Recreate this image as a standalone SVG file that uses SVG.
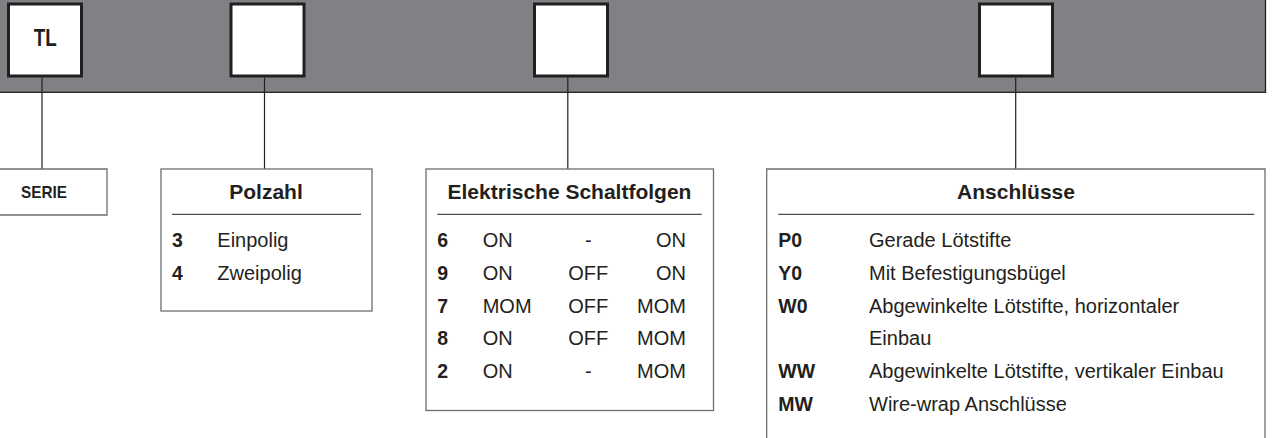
<svg xmlns="http://www.w3.org/2000/svg" width="1273" height="438" viewBox="0 0 1273 438">
<style>
.t{font-family:"Liberation Sans",Arial,sans-serif;fill:#231f20}
.h{font-size:21px;font-weight:bold;text-anchor:middle}
.b{font-size:19.5px;font-weight:bold}
.r{font-size:20px}
.box{fill:#fff;stroke:#6d6e71;stroke-width:1.3}
.slot{fill:#fff;stroke:#231f20;stroke-width:3}
.rule{stroke:#231f20;stroke-width:1}
.con{stroke:#231f20;stroke-width:1.2;fill:none}
</style>
<rect x="-2" y="-2" width="1267.5" height="94.3" fill="#808185" stroke="#231f20" stroke-width="1.3"/>
<g id="slot-tl"><rect class="slot" x="8.5" y="4" width="73" height="72"/><text class="t" x="45.3" y="45.7" font-size="24" font-weight="bold" text-anchor="middle" textLength="23" lengthAdjust="spacingAndGlyphs">TL</text></g>
<g id="slot-2"><rect class="slot" x="231" y="4" width="73" height="72"/></g>
<g id="slot-3"><rect class="slot" x="534.5" y="4" width="73" height="72"/></g>
<g id="slot-4"><rect class="slot" x="979.5" y="4" width="73" height="72"/></g>
<g id="connectors">
<line class="con" x1="42" y1="77.5" x2="42" y2="169"/>
<line class="con" x1="264.5" y1="77.5" x2="264.5" y2="169"/>
<line class="con" x1="567.8" y1="77.5" x2="567.8" y2="169"/>
<line class="con" x1="1015.7" y1="77.5" x2="1015.7" y2="169"/>
</g>
<g id="serie">
<path class="box" d="M-2,169 H107 V215 H-2"/>
<text class="t" x="44" y="198" font-size="17" font-weight="bold" text-anchor="middle" textLength="46" lengthAdjust="spacingAndGlyphs">SERIE</text>
</g>
<g id="polzahl">
<rect class="box" x="161" y="169" width="211" height="142"/>
<text class="t h" x="266" y="199">Polzahl</text>
<line class="rule" x1="172" y1="214.3" x2="361" y2="214.3"/>
<text class="t b" x="172" y="247.3">3</text><text class="t r" x="217.3" y="247.3">Einpolig</text>
<text class="t b" x="172" y="280">4</text><text class="t r" x="217.3" y="280">Zweipolig</text>
</g>
<g id="schaltfolgen">
<rect class="box" x="426" y="169" width="287.5" height="241.5"/>
<text class="t h" x="569.5" y="199">Elektrische Schaltfolgen</text>
<line class="rule" x1="437.3" y1="214.3" x2="701.7" y2="214.3"/>
<g class="t r">
<text class="b" x="437.3" y="247.3">6</text><text x="482.7" y="247.3">ON</text><text x="588.3" y="247.3" text-anchor="middle">-</text><text x="686" y="247.3" text-anchor="end">ON</text>
<text class="b" x="437.3" y="280">9</text><text x="482.7" y="280">ON</text><text x="588.3" y="280" text-anchor="middle">OFF</text><text x="686" y="280" text-anchor="end">ON</text>
<text class="b" x="437.3" y="312.7">7</text><text x="482.7" y="312.7">MOM</text><text x="588.3" y="312.7" text-anchor="middle">OFF</text><text x="686" y="312.7" text-anchor="end">MOM</text>
<text class="b" x="437.3" y="345.3">8</text><text x="482.7" y="345.3">ON</text><text x="588.3" y="345.3" text-anchor="middle">OFF</text><text x="686" y="345.3" text-anchor="end">MOM</text>
<text class="b" x="437.3" y="378">2</text><text x="482.7" y="378">ON</text><text x="588.3" y="378" text-anchor="middle">-</text><text x="686" y="378" text-anchor="end">MOM</text>
</g>
</g>
<g id="anschluesse">
<path class="box" d="M766.7,440 V169 H1265 V440"/>
<text class="t h" x="1016" y="199">Anschlüsse</text>
<line class="rule" x1="778.3" y1="214.3" x2="1254.3" y2="214.3"/>
<g class="t r">
<text class="b" x="778.3" y="247.3">P0</text><text x="869" y="247.3">Gerade Lötstifte</text>
<text class="b" x="778.3" y="280">Y0</text><text x="869" y="280">Mit Befestigungsbügel</text>
<text class="b" x="778.3" y="312.7">W0</text><text x="869" y="312.7">Abgewinkelte Lötstifte, horizontaler</text>
<text x="869" y="345.3">Einbau</text>
<text class="b" x="778.3" y="378">WW</text><text x="869" y="378">Abgewinkelte Lötstifte, vertikaler Einbau</text>
<text class="b" x="778.3" y="410.7">MW</text><text x="869" y="410.7">Wire-wrap Anschlüsse</text>
</g>
</g>
</svg>
